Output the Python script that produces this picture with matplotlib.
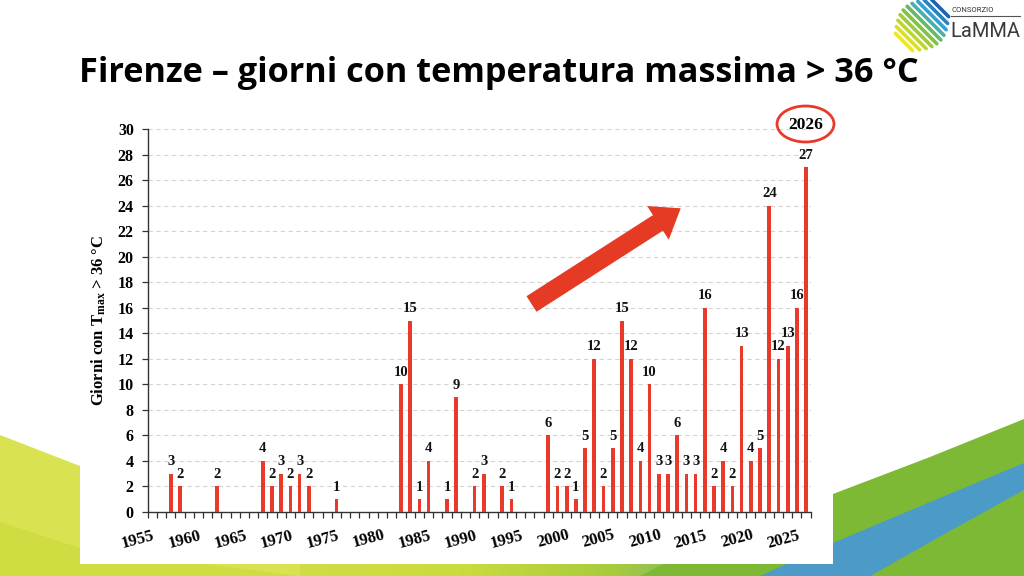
import numpy as np
import matplotlib
matplotlib.use("Agg")
import matplotlib.pyplot as plt
from matplotlib.patches import Polygon, Rectangle, Ellipse, FancyArrow
from matplotlib.colors import LinearSegmentedColormap

# ---------------- data ----------------
years = [1957, 1958, 1962, 1967, 1968, 1969, 1970, 1971, 1972, 1975,
         1982, 1983, 1984, 1985, 1987, 1988, 1990, 1991, 1993, 1994,
         1998, 1999, 2000, 2001, 2002, 2003, 2004, 2005, 2006, 2007,
         2008, 2009, 2010, 2011, 2012, 2013, 2014, 2015, 2016, 2017,
         2018, 2019, 2020, 2021, 2022, 2023, 2024, 2025, 2026]
days = [3, 2, 2, 4, 2, 3, 2, 3, 2, 1,
        10, 15, 1, 4, 1, 9, 2, 3, 2, 1,
        6, 2, 2, 1, 5, 12, 2, 5, 15, 12,
        4, 10, 3, 3, 6, 3, 3, 16, 2, 4,
        2, 13, 4, 5, 24, 12, 13, 16, 27]
year_labels = list(range(1955, 2026, 5))
y_ticks = list(range(0, 31, 2))
title = "Firenze – giorni con temperatura massima > 36 °C"
ylabel = r"Giorni con T$_{\mathrm{max}}$ > 36 °C"
highlight = "2026"

RED = "#E8392A"
SERIF = ["Liberation Serif", "DejaVu Serif"]

plt.rcParams["mathtext.fontset"] = "custom"
plt.rcParams["mathtext.rm"] = "Liberation Serif:bold"
plt.rcParams["mathtext.it"] = "Liberation Serif:bold:italic"
plt.rcParams["mathtext.bf"] = "Liberation Serif:bold"

W, H = 1024, 576
fig = plt.figure(figsize=(W / 100, H / 100), dpi=100)
fig.patch.set_facecolor("white")

# ---------------- background (pixel coords, y down) ----------------
bg = fig.add_axes([0, 0, 1, 1], zorder=0)
bg.set_xlim(0, W)
bg.set_ylim(H, 0)
bg.axis("off")

# bottom strip gradient
cmap = LinearSegmentedColormap.from_list(
    "strip",
    [(0.0, "#d7e24e"), (0.45, "#cadb3f"), (0.6, "#a7cb3c"),
     (0.72, "#6fb27a"), (0.8, "#55a2b8"), (0.86, "#4f9fc4"), (1.0, "#7cb936")])
grad = np.linspace(0, 1, 512)[None, :]
bg.imshow(grad, cmap=cmap, extent=(0, W, 576, 548), aspect="auto", zorder=0)

# left yellow-green wave
bg.add_patch(Polygon([(0, 435), (80, 466), (300, 560), (300, 576), (0, 576)],
                     closed=True, facecolor="#d9e352", edgecolor="none", zorder=1))
bg.add_patch(Polygon([(0, 522), (80, 548), (300, 576), (0, 576)],
                     closed=True, facecolor="#cfdd42", edgecolor="none", zorder=1))
# right green wave
bg.add_patch(Polygon([(1024, 419), (930, 457), (833, 494), (700, 545), (640, 576), (1024, 576)],
                     closed=True, facecolor="#7db935", edgecolor="none", zorder=1))
# right blue band
bg.add_patch(Polygon([(1024, 463), (930, 502), (833, 543), (760, 576),
                      (870, 576), (950, 531), (1024, 490)],
                     closed=True, facecolor="#4b9ac7", edgecolor="none", zorder=2))
# white chart box
bg.add_patch(Rectangle((80, 108), 833 - 80, 564 - 108, facecolor="white",
                       edgecolor="none", zorder=3))

# title
bg.text(79, 82, title, fontsize=24.7, fontweight="bold", family=["Open Sans", "DejaVu Sans"],
        ha="left", va="baseline", color="black", zorder=4)

# logo stripes
lcmap = LinearSegmentedColormap.from_list(
    "logo", ["#f0e62a", "#b7d433", "#6fbf45", "#39a9dc", "#1f63ad"])
n = 10
for k in range(n):
    t = k / (n - 1)
    cx, cy = 904 + 36 * t, 42 - 34 * t
    half = 7 + 17 * np.sin(np.pi * (0.1 + 0.8 * t))
    d = half / np.sqrt(2)
    bg.plot([cx - d, cx + d], [cy - d, cy + d], color=lcmap(t), lw=2.6,
            solid_capstyle="round", zorder=4)
bg.text(951, 12, "CONSORZIO", fontsize=5.5, family=["Roboto", "DejaVu Sans"],
        color="#333333", ha="left", va="baseline", zorder=4)
bg.plot([951, 1020], [15.5, 15.5], color="#555555", lw=0.8, zorder=4)
bg.text(950, 37, "LaMMA", fontsize=14.5, family=["Roboto", "DejaVu Sans"],
        color="#3a3a3a", ha="left", va="baseline", zorder=4)

# ---------------- chart axes ----------------
x0, x1 = 147.7, 810.7
y_top, y_bot = 129.0, 512.0
ax = fig.add_axes([x0 / W, (H - y_bot) / H, (x1 - x0) / W, (y_bot - y_top) / H], zorder=2)
ax.patch.set_alpha(0)

ax.bar(years, days, width=0.4, color=RED, zorder=3)
for yr, v in zip(years, days):
    ax.annotate(str(v), (yr, v), xytext=(0, 4), textcoords="offset points",
                ha="center", va="bottom", fontsize=10.5, fontweight="bold",
                family=SERIF, color="#111111", zorder=4)

ax.set_xlim(1954.5, 2026.5)
ax.set_ylim(0, 30)
ax.set_yticks(y_ticks)
ax.set_yticklabels([str(v) for v in y_ticks], fontsize=11.5, fontweight="bold",
                   family=SERIF)
ax.yaxis.grid(True, color="#d4d4d4", linestyle=(0, (4, 3)), linewidth=0.8, zorder=0)
ax.set_axisbelow(True)

ax.set_xticks(year_labels)
ax.set_xticklabels([str(y) for y in year_labels], fontsize=12, fontweight="bold",
                   family=SERIF, rotation=15, ha="right", va="top",
                   rotation_mode="anchor")
ax.set_xticks(np.arange(1954.5, 2027.0, 1.0), minor=True)
ax.tick_params(axis="x", which="major", length=0, pad=11)
ax.tick_params(axis="x", which="minor", length=4, width=0.9, color="#333333", direction="out")
ax.tick_params(axis="y", which="major", length=4, width=0.9, color="#333333",
               direction="out", pad=6)

for s in ("top", "right"):
    ax.spines[s].set_visible(False)
for s in ("left", "bottom"):
    ax.spines[s].set_color("#333333")
    ax.spines[s].set_linewidth(1.0)

ax.set_ylabel(ylabel, fontsize=12, fontweight="bold", family=SERIF, labelpad=7)

# ---------------- overlay: arrow & ellipse ----------------
ov = fig.add_axes([0, 0, 1, 1], zorder=5)
ov.set_xlim(0, W)
ov.set_ylim(H, 0)
ov.axis("off")
ov.patch.set_alpha(0)

tail = (531.5, 304.0)
tip = (680.7, 208.3)
ov.add_patch(FancyArrow(tail[0], tail[1], tip[0] - tail[0], tip[1] - tail[1],
                        width=18.5, head_width=40, head_length=27,
                        length_includes_head=True, color="#E53A24", lw=0))
ov.add_patch(Ellipse((805.5, 124), 57, 36, fill=False, edgecolor=RED, lw=2.0))
ov.text(805.5, 125, highlight, fontsize=12.5, fontweight="bold", family=SERIF,
        ha="center", va="center", color="black")

fig.savefig("out.png", dpi=100)
